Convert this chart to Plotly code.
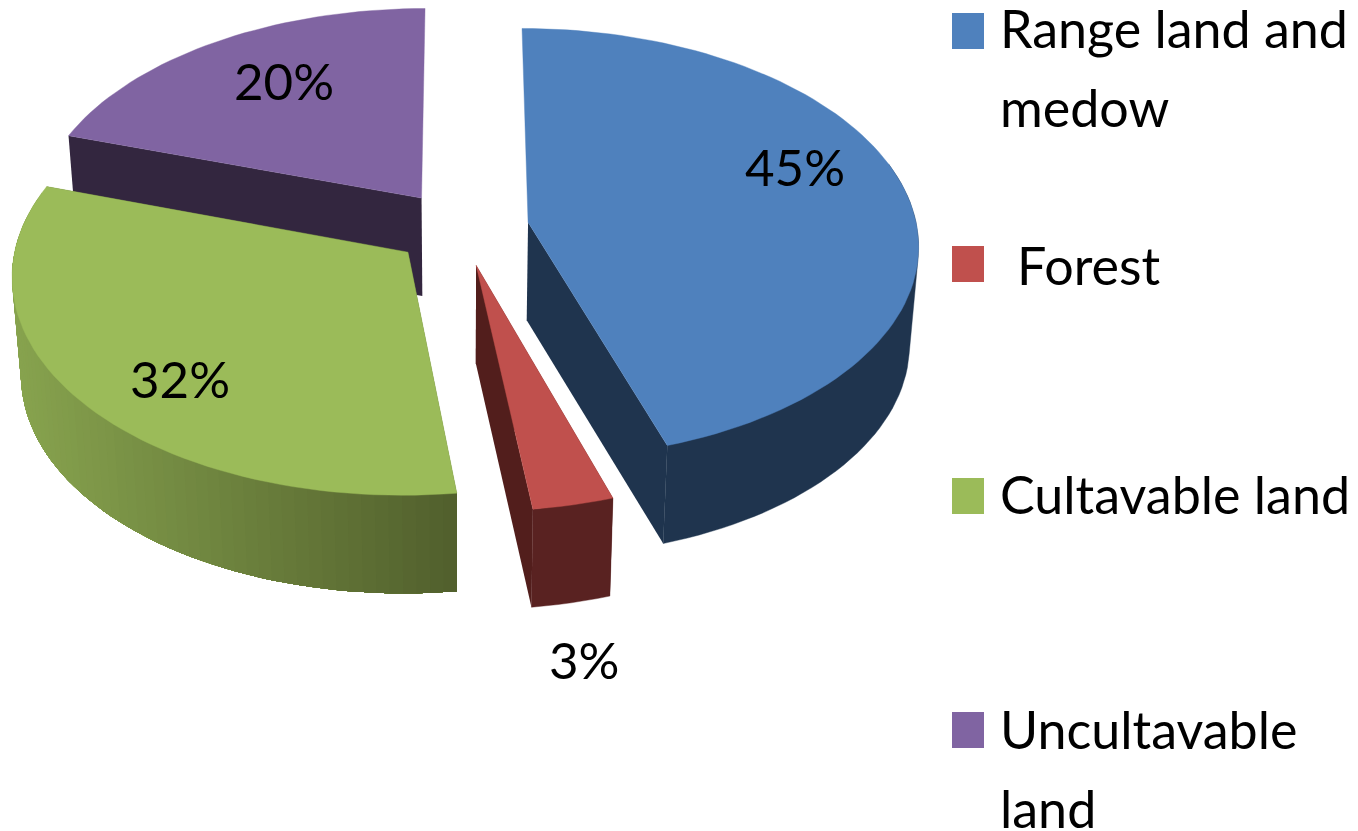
import math
import plotly.graph_objects as go

categories = ["Range land and<br>medow", "Forest", "Cultavable land", "Uncultavable<br>land"]
values = [45, 3, 32, 20]
pct_labels = ["45%", "3%", "32%", "20%"]
top_colors = ["#4f81bd", "#c0504d", "#9bbb59", "#8064a2"]
wall_colors = ["#1f344e", "#521e1c", "#505e2c", "#33263f"]
rim_from = ["#1f344e", "#592221", "#87a34e", "#33263f"]
rim_to = ["#1f344e", "#592221", "#505e2c", "#33263f"]
draw_order = [3, 2, 0, 1]

label_pos = [(795, 166), (584, 659), (180, 378), (284, 80)]
legend_y = [31, 264, 496, 730]
legend_text_x = [998, 1015, 998, 998]
legend_text_y = [28, 265, 494, 729]
LINE_STEP = 79

CX, CY, A, B, K, EXPLODE, DEPTH, SHRINK = 461, 228, 389, 214, 0.099, 0.175, 98, 0.98
FONT = "Lato"


def project(X, Y, low=False):
    s = 1 / (1 - K * Y)
    f = SHRINK if low else 1
    return CX + A * X * s * f, CY + B * Y * s + (DEPTH if low else 0)


def hex_mix(a, b, t):
    pa = [int(a[i:i + 2], 16) for i in (1, 3, 5)]
    pb = [int(b[i:i + 2], 16) for i in (1, 3, 5)]
    return "#%02x%02x%02x" % tuple(round(p + (q - p) * t) for p, q in zip(pa, pb))


def hull(points):
    pts = sorted(set(points))

    def cross(o, a, b):
        return (a[0] - o[0]) * (b[1] - o[1]) - (a[1] - o[1]) * (b[0] - o[0])

    def half(seq):
        out = []
        for p in seq:
            while len(out) >= 2 and cross(out[-2], out[-1], p) <= 0:
                out.pop()
            out.append(p)
        return out[:-1]

    return half(pts) + half(pts[::-1])


def poly(fig, pts, color, width=0.0):
    xs = [p[0] for p in pts] + [pts[0][0]]
    ys = [p[1] for p in pts] + [pts[0][1]]
    fig.add_trace(go.Scatter(x=xs, y=ys, mode="lines", fill="toself", fillcolor=color,
                             line=dict(color=color, width=width), hoverinfo="skip", showlegend=False))


fig = go.Figure()
total = sum(values)
starts = [sum(values[:i]) / total * 2 * math.pi for i in range(len(values))]

for i in draw_order:
    a0 = starts[i]
    sweep = values[i] / total * 2 * math.pi
    mid = a0 + sweep / 2
    ox, oy = EXPLODE * math.sin(mid), -EXPLODE * math.cos(mid)
    n = max(6, int(values[i] * 2))
    angles = [a0 + sweep * k / n for k in range(n + 1)]
    rim = [(ox + math.sin(a), oy - math.cos(a)) for a in angles]
    top = [project(*p) for p in rim]
    low = [project(*p, low=True) for p in rim]
    apex, apex_low = project(ox, oy), project(ox, oy, low=True)
    # radial walls first (not the ones pointing straight away from the viewer)
    for idx in (0, n):
        if math.cos(angles[idx]) < 0.9:
            poly(fig, [apex, top[idx], low[idx], apex_low], wall_colors[i])
    # the part of the rim that can be seen in front of the top face
    front = [k for k in range(n + 1) if math.cos(angles[k]) < 0.3]
    if len(front) > 1:
        xs_front = [top[k][0] for k in front]
        x_min, x_max = min(xs_front), max(xs_front)
        if rim_from[i] == rim_to[i]:
            poly(fig, hull([top[k] for k in front] + [low[k] for k in front]), rim_from[i], 0.4)
        else:
            # strips are painted from the far end of the arc, each one over the last, so no seam shows
            for j in range(len(front) - 1, 0, -1):
                strip = front[:j + 1]
                t = (top[front[j]][0] - x_min) / (x_max - x_min)
                poly(fig, hull([top[k] for k in strip] + [low[k] for k in strip]),
                     hex_mix(rim_from[i], rim_to[i], t))
    # top face
    poly(fig, [apex] + top, top_colors[i], 0.4)

# percentage labels
for (x, y), txt in zip(label_pos, pct_labels):
    fig.add_annotation(x=x, y=y, text=txt, showarrow=False, xanchor="center", yanchor="middle",
                       font=dict(family=FONT, size=51, color="#000000"))

# legend
for y, color in zip(legend_y, top_colors):
    fig.add_shape(type="rect", x0=952, x1=984, y0=y - 18, y1=y + 18, fillcolor=color, line=dict(width=0))
for tx, ty, txt in zip(legend_text_x, legend_text_y, categories):
    for j, line in enumerate(txt.split("<br>")):
        fig.add_annotation(x=tx, y=ty + j * LINE_STEP, text=line, showarrow=False, xanchor="left",
                           yanchor="middle", align="left",
                           font=dict(family=FONT, size=52, color="#000000"))

fig.update_layout(width=1358, height=831, margin=dict(l=0, r=0, t=0, b=0),
                  paper_bgcolor="white", plot_bgcolor="white", showlegend=False,
                  xaxis=dict(range=[0, 1358], visible=False, fixedrange=True),
                  yaxis=dict(range=[831, 0], visible=False, fixedrange=True))
fig.write_html("out.html", config=dict(displayModeBar=False),
               post_script="document.body.style.margin='0';document.body.style.overflow='hidden';")
